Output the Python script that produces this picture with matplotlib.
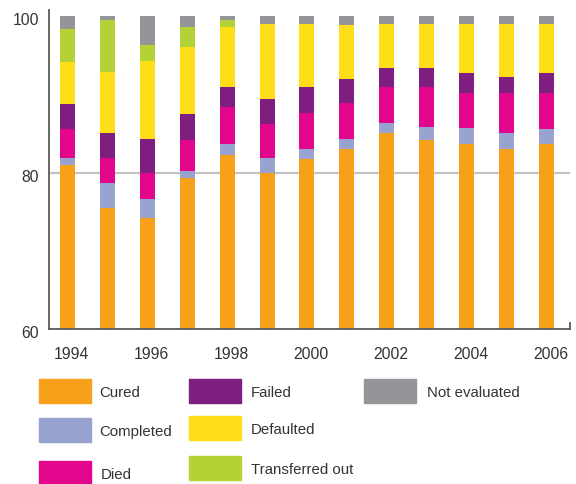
import numpy as np
import matplotlib.pyplot as plt
import matplotlib.transforms as mtransforms
from matplotlib.patches import Rectangle

plt.rcParams['font.family'] = ['Liberation Sans', 'DejaVu Sans']

years = [1994, 1995, 1996, 1997, 1998, 1999, 2000, 2001, 2002, 2003, 2004, 2005, 2006]
cured = [81.0, 75.5, 74.2, 79.25, 82.3, 80.0, 81.7, 83.0, 85.0, 84.2, 83.7, 83.0, 83.6]
completed = [0.8, 3.1, 2.4, 1.0, 1.4, 1.8, 1.3, 1.3, 1.3, 1.6, 2.0, 2.1, 2.0]
died = [3.8, 3.2, 3.4, 3.9, 4.7, 4.45, 4.6, 4.6, 4.6, 5.1, 4.5, 5.1, 4.6]
failed = [3.1, 3.3, 4.3, 3.3, 2.5, 3.15, 3.3, 3.1, 2.5, 2.5, 2.5, 2.0, 2.5]
defaulted = [5.4, 7.7, 9.9, 8.6, 7.7, 9.55, 8.1, 6.9, 5.6, 5.6, 6.3, 6.8, 6.3]
transferred = [4.2, 6.7, 2.1, 2.5, 0.9, 0, 0, 0, 0, 0, 0, 0, 0]
not_evaluated = [1.7, 0.5, 3.7, 1.45, 0.5, 1.05, 1.0, 1.1, 1.0, 1.0, 1.0, 1.0, 1.0]

series = [
    ("Cured", cured, "#f7a11a"),
    ("Completed", completed, "#98a3d0"),
    ("Died", died, "#e2068c"),
    ("Failed", failed, "#7e1e80"),
    ("Defaulted", defaulted, "#fede17"),
    ("Transferred out", transferred, "#b2d235"),
    ("Not evaluated", not_evaluated, "#939598"),
]
xticks = [1994, 1996, 1998, 2000, 2002, 2004, 2006]
yticks = [60, 80, 100]
text_col = "#333333"

W, H = 576, 484
fig = plt.figure(figsize=(W / 100, H / 100), dpi=100)
ax = fig.add_axes([49 / W, 1 - 329 / H, 521 / W, 319 / H])

bottom = np.zeros(len(years))
for name, vals, col in series:
    vals = np.array(vals)
    ax.bar(years, vals, bottom=bottom, width=0.376, color=col, zorder=2)
    bottom += vals

ax.axhline(80, color="#c4c4c4", lw=1.6, zorder=1)

ax.set_xlim(1993.536, 2006.59)
ax.set_ylim(60, 100.77)
ax.set_xticks(xticks)
ax.set_yticks(yticks)
ax.tick_params(length=0, labelsize=11.3, labelcolor=text_col)
ax.tick_params(axis="x", pad=13)
ax.tick_params(axis="y", pad=7)
for lab in ax.get_xticklabels():
    lab.set_transform(lab.get_transform() + mtransforms.ScaledTranslation(4 / 100, 0, fig.dpi_scale_trans))
for lab in ax.get_yticklabels():
    lab.set_transform(lab.get_transform() + mtransforms.ScaledTranslation(0, -3 / 100, fig.dpi_scale_trans))

for s in ["top", "right"]:
    ax.spines[s].set_visible(False)
for s in ["left", "bottom"]:
    ax.spines[s].set_color("#5a5a5a")
    ax.spines[s].set_linewidth(1.3)
ax.plot([1, 1], [0, 6 / 319], transform=ax.transAxes, color="#5a5a5a", lw=1.3, clip_on=False)

# legend drawn by hand: patch x, patch y, text x (pixels)
legend_pos = [
    (39, 379, 99), (39, 418, 99), (39, 461, 101),
    (189, 379, 251), (189, 416, 251), (189, 456, 251),
    (364, 379, 427),
]
for (name, vals, col), (px, py, tx) in zip(series, legend_pos):
    fig.add_artist(Rectangle((px / W, 1 - (py + 24) / H), 52 / W, 24 / H,
                             transform=fig.transFigure, color=col))
    fig.text(tx / W, 1 - (py + 14) / H, name, fontsize=10.8,
             color=text_col, va="center", ha="left")

fig.savefig("out.png", dpi=100)
